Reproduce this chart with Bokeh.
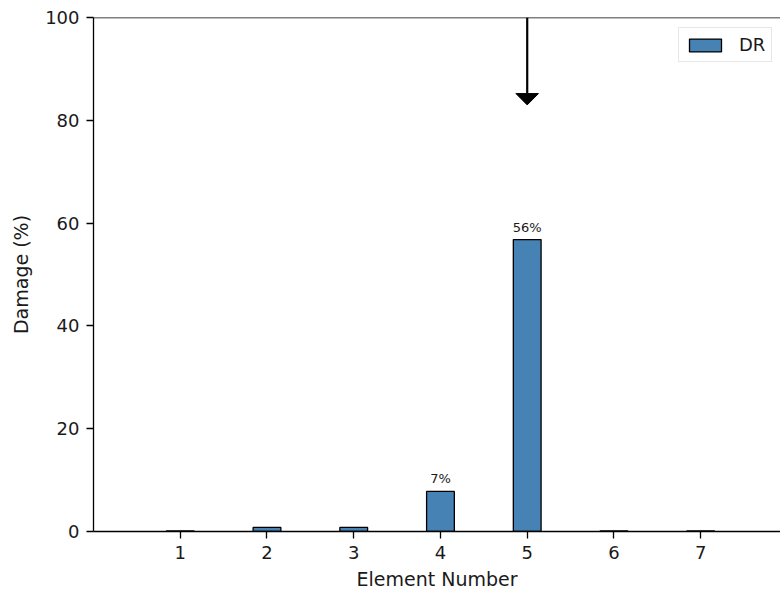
from bokeh.plotting import figure
from bokeh.models import Range1d, Span, FixedTicker, Legend, LegendItem, ColumnDataSource
from bokeh.embed import file_html
from bokeh.resources import INLINE
from bokeh.core.properties import value

# Damage ratio per element
elements = [1, 2, 3, 4, 5, 6, 7]
damage = [0.1, 0.8, 0.8, 7.8, 56.8, 0.1, 0.1]
labelled = [4, 5]  # elements whose damage is annotated above the bar

# Arrow marking the damaged element
arrow_x = 5
arrow_top = 100
arrow_tip = 83

FONT = "DejaVu Sans"
TEXT = "#1a1a1a"

p = figure(width=780, height=595, output_backend="svg", toolbar_location=None,
           x_range=Range1d(0, 7.92), y_range=Range1d(0, 100),
           min_border_left=93, min_border_top=17, min_border_bottom=64, min_border_right=0)
p.outline_line_color = None
p.xgrid.visible = False
p.ygrid.visible = False
p.background_fill_color = "white"
p.border_fill_color = "white"

src = ColumnDataSource(dict(x=elements, top=damage))
bars = p.vbar(x="x", top="top", width=0.32, source=src, fill_color="#4682B4",
              line_color="black", line_width=1.3)

# Percent labels above selected bars
lx = [elements[i - 1] for i in labelled]
ly = [damage[i - 1] for i in labelled]
lt = [f"{int(v)}%" for v in ly]
p.text(x=lx, y=ly, text=lt, text_align="center", text_baseline="bottom", y_offset=-5,
       text_font=value(FONT), text_font_size="13px", text_color=TEXT)

# Top spine
p.add_layout(Span(location=100, dimension="width", line_color="black", line_width=1.3))

# Arrow: shaft plus a flat triangular head
p.segment(x0=[arrow_x], y0=[arrow_top], x1=[arrow_x], y1=[arrow_tip + 1.5],
          line_color="black", line_width=2.2)
hw = 0.13
hh = 2.2
p.patch(x=[arrow_x - hw, arrow_x + hw, arrow_x], y=[arrow_tip + hh, arrow_tip + hh, arrow_tip],
        fill_color="black", line_color="black", line_width=1)

for ax in (p.xaxis[0], p.yaxis[0]):
    ax.axis_line_color = "black"
    ax.axis_line_width = 1.3
    ax.major_tick_line_color = "black"
    ax.major_tick_line_width = 1.3
    ax.major_tick_out = 7
    ax.major_tick_in = 0
    ax.minor_tick_line_color = None
    ax.major_label_text_font = FONT
    ax.major_label_text_font_size = "18px"
    ax.major_label_text_color = TEXT
    ax.axis_label_text_font = FONT
    ax.axis_label_text_font_size = "19px"
    ax.axis_label_text_font_style = "normal"
    ax.axis_label_text_color = TEXT

p.xaxis.ticker = FixedTicker(ticks=elements)
p.yaxis.ticker = FixedTicker(ticks=[0, 20, 40, 60, 80, 100])
p.xaxis.axis_label = "Element Number"
p.yaxis.axis_label = "Damage (%)"
p.xaxis.major_label_standoff = 7
p.xaxis.axis_label_standoff = 6
p.yaxis.major_label_standoff = 7
p.yaxis.axis_label_standoff = 10

legend = Legend(items=[LegendItem(label="DR", renderers=[bars])], location=(585, 469),
                label_text_font=FONT, label_text_font_size="18px", label_text_color=TEXT,
                border_line_color="#d0d0d0", border_line_width=1,
                glyph_width=40, glyph_height=16, padding=6, margin=0, spacing=0,
                label_standoff=14, label_height=18)
p.add_layout(legend)

open("out.html", "w").write(file_html(p, INLINE))
